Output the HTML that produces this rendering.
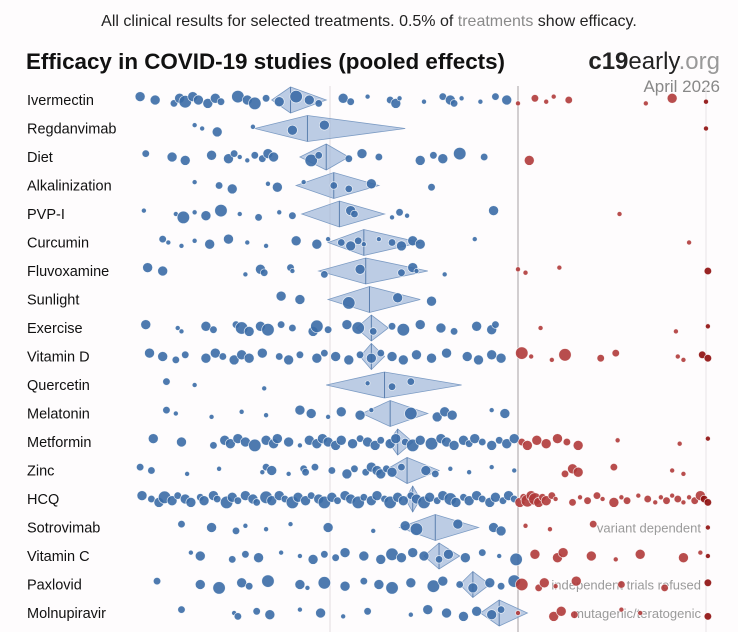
<!DOCTYPE html>
<html><head><meta charset="utf-8"><style>
html,body{margin:0;padding:0;background:#fefcfd;}
svg{display:block;font-family:"Liberation Sans",sans-serif;}
</style></head><body>
<svg id="chart" width="738" height="632" viewBox="0 0 738 632">
<rect x="0" y="0" width="738" height="632" fill="#fefcfd"/>
<text x="369" y="26" text-anchor="middle" font-size="16" fill="#222">All clinical results for selected treatments. 0.5% of <tspan fill="#8a8a8a">treatments</tspan> show efficacy.</text>
<text x="26" y="69" font-size="22.4" font-weight="bold" fill="#111">Efficacy in COVID-19 studies (pooled effects)</text>
<text x="720" y="69" text-anchor="end" font-size="24" fill="#222"><tspan font-weight="bold">c19</tspan><tspan>early</tspan><tspan fill="#999">.org</tspan></text>
<text x="720" y="92" text-anchor="end" font-size="17" fill="#888">April 2026</text>
<g id="grid"></g>
<g id="rows"></g>
</svg>
<script>
const treatments=["Ivermectin","Regdanvimab","Diet","Alkalinization","PVP-I","Curcumin","Fluvoxamine","Sunlight","Exercise","Vitamin D","Quercetin","Melatonin","Metformin","Zinc","HCQ","Sotrovimab","Vitamin C","Paxlovid","Molnupiravir"];
// pooled effect diamonds: [low, mid, high] in log2(RR)*100
const pooled=[[-131,-121,-102],[-140,-112,-60],[-116,-102,-90],[-118,-98,-74],[-115,-95,-71],[-101,-82,-52],[-106,-81,-48],[-101,-79,-52],[-86,-78,-69],[-84,-78,-71],[-102,-71,-30],[-83,-68,-48],[-69,-64,-56],[-71,-59,-42],[-60,-56,-52],[-63,-44,-21],[-50,-42,-31],[-31,-24,-15],[-20,-10,5]];
const notes={15:"variant dependent",17:"independent trials refused",18:"mutagenic/teratogenic"};
// study results: [effect (log2 RR*100), weight]
const studies=[
[[-201,4],[-193,4],[-183,3],[-180,4],[-177,5],[-173,4],[-170,4],[-165,4],[-161,4],[-158,3],[-149,5],[-144,4],[-140,5],[-134,3],[-127,4],[-118,5],[-111,4],[-106,3],[-93,4],[-89,3],[-80,2],[-68,3],[-65,4],[-63,2],[-50,2],[-40,3],[-36,4],[-34,3],[-30,2],[-20,2],[-12,3],[-6,4],[0,2],[9,3],[15,2],[19,2],[27,3],[68,2],[82,4],[100,2]],
[[-172,2],[-168,2],[-160,4],[-141,2],[-120,4],[-103,4],[100,2]],
[[-198,3],[-184,4],[-177,4],[-163,4],[-154,4],[-151,3],[-148,2],[-144,2],[-140,3],[-136,3],[-133,4],[-130,4],[-110,5],[-106,3],[-90,3],[-83,4],[-74,3],[-52,4],[-45,3],[-40,4],[-31,5],[-18,3],[6,4]],
[[-172,2],[-159,3],[-152,4],[-133,2],[-128,4],[-114,2],[-98,3],[-90,3],[-78,4],[-46,3]],
[[-199,2],[-182,2],[-178,5],[-172,2],[-166,4],[-158,5],[-148,2],[-138,3],[-127,2],[-120,3],[-89,4],[-87,3],[-67,2],[-63,3],[-59,2],[-13,4],[54,2]],
[[-189,3],[-186,2],[-179,2],[-172,2],[-164,4],[-154,4],[-144,2],[-134,2],[-118,4],[-107,4],[-101,2],[-94,3],[-89,4],[-85,3],[-82,2],[-74,2],[-67,3],[-62,4],[-56,4],[-52,4],[-23,2],[91,2]],
[[-197,4],[-189,4],[-145,2],[-137,4],[-135,3],[-121,3],[-120,2],[-103,3],[-84,4],[-62,3],[-56,4],[-54,2],[-39,2],[0,2],[4,2],[22,2],[101,3]],
[[-126,4],[-116,4],[-90,5],[-64,4],[-46,4]],
[[-198,4],[-181,2],[-179,2],[-166,4],[-162,3],[-150,3],[-147,5],[-143,4],[-137,4],[-133,5],[-126,3],[-120,3],[-109,4],[-107,5],[-101,3],[-91,4],[-85,5],[-77,3],[-67,3],[-61,5],[-52,4],[-41,4],[-34,3],[-22,4],[-14,4],[-12,3],[12,2],[84,2],[101,2]],
[[-196,4],[-189,4],[-182,3],[-177,3],[-166,4],[-161,4],[-157,3],[-151,4],[-147,4],[-143,4],[-136,4],[-127,3],[-122,4],[-116,3],[-107,4],[-103,3],[-97,4],[-90,4],[-84,3],[-78,4],[-73,3],[-67,4],[-61,4],[-54,4],[-46,4],[-38,4],[-27,4],[-21,4],[-14,4],[-9,4],[2,5],[7,2],[18,2],[25,5],[44,3],[52,3],[85,2],[88,2],[98,3],[101,3]],
[[-187,3],[-172,2],[-135,2],[-80,2],[-67,3],[-57,3]],
[[-187,3],[-182,2],[-163,2],[-147,2],[-134,2],[-116,4],[-110,4],[-101,2],[-94,4],[-84,4],[-78,2],[-57,5],[-43,4],[-39,4],[-35,4],[-14,2],[-7,4]],
[[-194,4],[-179,4],[-162,3],[-156,4],[-153,4],[-149,4],[-145,4],[-140,5],[-134,4],[-130,4],[-128,4],[-122,4],[-116,2],[-111,4],[-107,4],[-104,4],[-101,4],[-97,4],[-94,4],[-88,4],[-84,3],[-80,4],[-76,4],[-73,3],[-68,4],[-65,4],[-60,3],[-56,5],[-52,4],[-46,5],[-41,4],[-38,4],[-34,4],[-29,4],[-26,3],[-23,4],[-19,3],[-14,4],[-10,3],[-6,4],[-2,4],[2,3],[5,4],[10,4],[15,4],[21,4],[26,3],[32,4],[53,2],[86,2],[101,2]],
[[-201,3],[-195,3],[-176,2],[-159,2],[-136,2],[-134,3],[-131,4],[-122,2],[-114,3],[-113,3],[-108,3],[-99,3],[-91,4],[-87,3],[-81,3],[-78,4],[-75,4],[-73,4],[-70,3],[-67,4],[-62,3],[-49,4],[-44,3],[-36,2],[-26,2],[-14,2],[-2,2],[25,3],[29,4],[32,4],[51,3],[82,2],[88,2]],
[[-200,4],[-195,3],[-191,4],[-188,5],[-184,4],[-181,3],[-177,4],[-174,4],[-169,3],[-167,4],[-162,4],[-160,3],[-155,5],[-152,4],[-149,3],[-145,4],[-141,4],[-139,3],[-134,5],[-131,4],[-127,4],[-124,3],[-120,5],[-117,4],[-113,4],[-110,3],[-106,4],[-103,5],[-99,4],[-96,3],[-92,4],[-89,4],[-85,5],[-82,3],[-78,4],[-75,4],[-71,3],[-68,5],[-64,4],[-61,4],[-57,3],[-54,4],[-50,5],[-47,4],[-43,3],[-40,4],[-36,5],[-33,4],[-29,3],[-26,4],[-22,4],[-19,3],[-15,4],[-12,4],[-8,3],[-5,4],[-2,3],[1,4],[3,3],[5,5],[7,4],[9,5],[11,4],[13,3],[15,4],[18,3],[20,2],[29,3],[33,2],[37,3],[42,3],[45,2],[51,4],[55,2],[58,3],[64,2],[69,3],[73,2],[76,2],[79,3],[82,2],[85,3],[88,2],[91,2],[94,3],[97,4],[99,3],[101,3]],
[[-179,3],[-163,4],[-150,3],[-145,2],[-134,2],[-121,2],[-101,4],[-77,2],[-60,4],[-54,5],[-32,4],[-13,4],[-9,4],[4,2],[17,2],[40,3],[101,2]],
[[-174,2],[-169,4],[-152,3],[-145,3],[-138,4],[-126,2],[-116,2],[-109,4],[-103,3],[-97,3],[-92,4],[-82,4],[-73,4],[-67,5],[-62,4],[-56,4],[-50,4],[-42,3],[-37,4],[-28,4],[-19,3],[-10,2],[-1,5],[9,4],[21,4],[24,4],[39,4],[52,2],[65,4],[88,4],[97,2],[101,2]],
[[-192,3],[-169,4],[-159,5],[-147,4],[-143,3],[-133,5],[-116,4],[-112,2],[-103,5],[-92,4],[-82,3],[-74,4],[-67,5],[-57,4],[-45,5],[-40,4],[-31,3],[-24,4],[-15,4],[-9,3],[-2,5],[2,5],[11,3],[14,4],[20,2],[31,4],[55,3],[78,3],[101,3]],
[[-179,3],[-151,2],[-149,3],[-139,3],[-132,4],[-116,2],[-105,4],[-93,2],[-80,3],[-57,2],[-48,4],[-38,4],[-29,4],[-22,4],[-14,4],[-9,3],[0,2],[19,4],[23,4],[30,3],[55,2],[65,2],[101,3]]
];
const NS="http://www.w3.org/2000/svg";
function x(v){return 518+v*1.88;}
function rowY(i){return 100+i*28.5;}
const grid=document.getElementById('grid');
[[-100,'#e6e2e4','gridline-rr-0.5'],[0,'#b4b0b2','gridline-no-effect'],[100,'#ece8ea','gridline-rr-2']].forEach(g=>{
 const l=document.createElementNS(NS,'line');
 l.setAttribute('x1',x(g[0]));l.setAttribute('x2',x(g[0]));
 l.setAttribute('y1',86);l.setAttribute('y2',632);
 l.setAttribute('stroke',g[1]);l.setAttribute('stroke-width',1.2);
 
 
 grid.appendChild(l);
});
const rows=document.getElementById('rows');
treatments.forEach((t,i)=>{
 const y=rowY(i);
 const g=document.createElementNS(NS,'g');
 
 
 const lab=document.createElementNS(NS,'text');
 lab.setAttribute('x',27);lab.setAttribute('y',y+5);lab.setAttribute('font-size',14.5);lab.setAttribute('fill','#111');
 lab.textContent=t;
 
 
 g.appendChild(lab);
 if(notes[i]){
  const n=document.createElementNS(NS,'text');
  n.setAttribute('x',701);n.setAttribute('y',y+5);n.setAttribute('text-anchor','end');n.setAttribute('font-size',13);n.setAttribute('fill','#9a9a9a');
  n.textContent=notes[i];
  
  
  g.appendChild(n);
 }
 const p=pooled[i];
 const d=document.createElementNS(NS,'polygon');
 d.setAttribute('points',`${x(p[0])},${y} ${x(p[1])},${y-13} ${x(p[2])},${y} ${x(p[1])},${y+13}`);
 d.setAttribute('fill','#9fb8d8');d.setAttribute('fill-opacity','0.7');d.setAttribute('stroke','#7d9cc4');d.setAttribute('stroke-width','0.8');
 
 
 g.appendChild(d);
 const ml=document.createElementNS(NS,'line');
 ml.setAttribute('x1',x(p[1]));ml.setAttribute('x2',x(p[1]));ml.setAttribute('y1',y-13);ml.setAttribute('y2',y+13);
 ml.setAttribute('stroke','#5b7fae');ml.setAttribute('stroke-width','1');
 
 
 g.appendChild(ml);
 studies[i].forEach((s,k)=>{
  const c=document.createElementNS(NS,'circle');
  const jit=((k*7)%5-2)*1.7;
  c.setAttribute('cx',x(s[0]));c.setAttribute('cy',y+jit);c.setAttribute('r',s[1]*1.25);
  let col=s[0]<0?'#3b6ca6':(s[0]>=98?'#8e0c0c':'#b03a3a');
  c.setAttribute('fill',col);c.setAttribute('fill-opacity','0.9');
  c.setAttribute('stroke','#ffffff');c.setAttribute('stroke-width','0.7');c.setAttribute('stroke-opacity','0.8');
  
  
  g.appendChild(c);
 });
 rows.appendChild(g);
});
</script>
</body></html>
